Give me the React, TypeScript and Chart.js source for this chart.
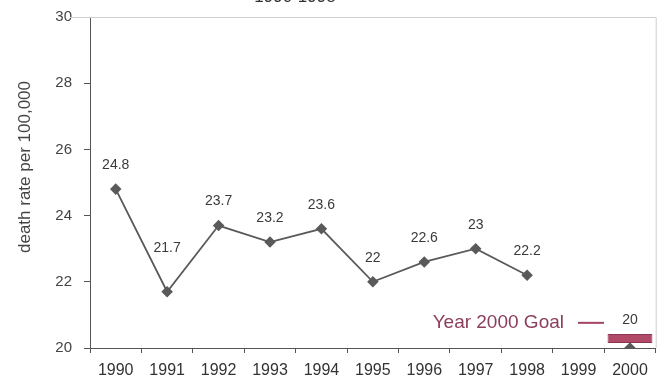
import React, { useEffect, useRef } from "react";
import { Chart, registerables } from "chart.js";

Chart.register(...registerables);

const years = ["1990", "1991", "1992", "1993", "1994", "1995", "1996", "1997", "1998", "1999", "2000"];
const deathRates: (number | null)[] = [24.8, 21.7, 23.7, 23.2, 23.6, 22, 22.6, 23, 22.2, null, 20];
const goalBar: ([number, number] | null)[] = [null, null, null, null, null, null, null, null, null, null, [20.15, 20.42]];
const yTicks = [20, 22, 24, 26, 28, 30];
const yAxisTitle = "death rate per 100,000";
const goalLabel = "Year 2000 Goal";
const chartTitle = "1990-1998";

const FONT = "'Liberation Sans', Arial, sans-serif";

const labelPlugin = {
  id: "valueLabels",
  afterDatasetsDraw(chart: any) {
    const ctx = chart.ctx;
    const meta = chart.getDatasetMeta(0);
    ctx.save();
    ctx.font = `14px ${FONT}`;
    ctx.fillStyle = "#3a3a3a";
    ctx.textAlign = "center";
    ctx.textBaseline = "middle";
    meta.data.forEach((pt: any, i: number) => {
      const v = deathRates[i];
      if (v == null) return;
      const off = i === 1 ? 44 : i === 10 ? 28 : 24;
      ctx.fillText(String(v), pt.x, pt.y - off);
    });
    // goal annotation
    const xs = chart.scales.x;
    const ys = chart.scales.y;
    const gx = xs.getPixelForValue(10);
    const gy = ys.getPixelForValue(20.76);
    ctx.strokeStyle = "#a34462";
    ctx.lineWidth = 2;
    ctx.beginPath();
    ctx.moveTo(gx - 52, gy);
    ctx.lineTo(gx - 26, gy);
    ctx.stroke();
    ctx.font = `19px ${FONT}`;
    ctx.fillStyle = "#8a3d5c";
    ctx.textAlign = "right";
    ctx.fillText(goalLabel, gx - 66, gy);
    // y axis title
    const a = chart.chartArea;
    ctx.save();
    ctx.translate(25, 167);
    ctx.rotate(-Math.PI / 2);
    ctx.font = `17px ${FONT}`;
    ctx.fillStyle = "#444";
    ctx.textAlign = "center";
    ctx.textBaseline = "middle";
    ctx.fillText(yAxisTitle, 0, 0);
    ctx.restore();
    // title (cropped at top in the reference)
    ctx.font = `17px ${FONT}`;
    ctx.fillStyle = "#333";
    ctx.textAlign = "center";
    ctx.textBaseline = "alphabetic";
    ctx.fillText(chartTitle, 295, 2);
    // frame top / right
    ctx.strokeStyle = "#cfcfcf";
    ctx.lineWidth = 1;
    ctx.beginPath();
    ctx.moveTo(a.left - 20, a.top + 0.5);
    ctx.lineTo(a.right + 0.5, a.top + 0.5);
    ctx.lineTo(a.right + 0.5, a.bottom);
    ctx.stroke();
    ctx.restore();
  },
};

export default function App() {
  const ref = useRef<HTMLCanvasElement>(null);
  useEffect(() => {
    if (!ref.current) return;
    const chart = new Chart(ref.current, {
      type: "line",
      data: {
        labels: years,
        datasets: [
          {
            type: "line",
            data: deathRates,
            borderColor: "#5a5a5a",
            backgroundColor: "#5a5a5a",
            borderWidth: 1.8,
            pointStyle: "rectRot",
            pointRadius: 4.5,
            pointBackgroundColor: "#5a5a5a",
            pointBorderColor: "#5a5a5a",
            spanGaps: false,
            tension: 0,
            order: 1,
          },
          {
            type: "bar",
            data: goalBar as any,
            backgroundColor: "#b04a68",
            borderColor: "#8e3552",
            borderWidth: 1,
            borderSkipped: false,
            barPercentage: 0.9,
            categoryPercentage: 0.97,
            order: 2,
          } as any,
        ],
      },
      options: {
        animation: false,
        responsive: false,
        maintainAspectRatio: false,
        layout: { padding: { top: 17, right: 4, left: 0, bottom: 0 } },
        plugins: { legend: { display: false }, tooltip: { enabled: false }, title: { display: false } },
        scales: {
          x: {
            type: "category",
            offset: true,
            grid: { display: true, offset: true, drawOnChartArea: false, drawTicks: true, tickLength: 5, color: "#555" },
            border: { color: "#555", width: 1 },
            ticks: { font: { size: 16, family: FONT }, color: "#333", padding: 8, maxRotation: 0, autoSkip: false },
            afterFit: (s: any) => { s.height = 31; s.paddingLeft = 0; s.paddingRight = 0; },
          },
          y: {
            min: 20,
            max: 30,
            afterBuildTicks: (s: any) => { s.ticks = yTicks.map((v) => ({ value: v })); },
            grid: { display: true, drawOnChartArea: false, drawTicks: true, tickLength: 6, color: "#555" },
            border: { color: "#555", width: 1 },
            ticks: { font: { size: 15, family: FONT }, color: "#444", padding: 12 },
            title: { display: false },
            afterFit: (s: any) => { s.width = 90; s.paddingTop = 0; s.paddingBottom = 0; },
          },
        },
      },
      plugins: [labelPlugin],
    } as any);
    return () => chart.destroy();
  }, []);
  return (
    <div style={{ position: "fixed", left: 0, top: 0, width: 662, height: 379, background: "#fff" }}>
      <canvas ref={ref} width={662} height={379} style={{ width: 662, height: 379, display: "block" }} />
    </div>
  );
}
